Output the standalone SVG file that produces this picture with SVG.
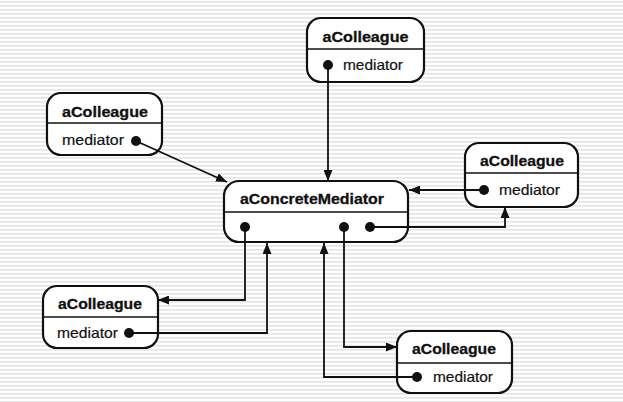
<svg xmlns="http://www.w3.org/2000/svg" width="623" height="402" viewBox="0 0 623 402">
<defs>
<pattern id="stripes" width="8" height="4" patternUnits="userSpaceOnUse">
<rect width="8" height="4" fill="#ffffff"/>
<rect y="1" width="8" height="1.6" fill="#e4e4e4"/>
</pattern>
<marker id="arr" viewBox="0 0 11 9" refX="11" refY="4.5" markerWidth="11" markerHeight="9" markerUnits="userSpaceOnUse" orient="auto">
<path d="M0,0 L11,4.5 L0,9 Z" fill="#111"/>
</marker>
<style>
.box{fill:#fff;stroke:#111;stroke-width:2.2}
.div{stroke:#111;stroke-width:1.6}
.title{font-family:"Liberation Sans",Arial,sans-serif;font-weight:bold;font-size:15px;fill:#111;stroke:#111;stroke-width:0.3}
.attr{font-family:"Liberation Sans",Arial,sans-serif;font-size:15px;fill:#111;stroke:#111;stroke-width:0.2}
.dot{fill:#111}
.conn{fill:none;stroke:#111;stroke-width:1.8;marker-end:url(#arr)}
</style>
</defs>
<rect width="623" height="402" fill="url(#stripes)"/>

<g id="mediator">
<rect class="box" x="224" y="181" width="184" height="61" rx="15"/>
<line class="div" x1="224" y1="212" x2="408" y2="212"/>
<text class="title" x="240" y="204" font-size="16" textLength="144" lengthAdjust="spacingAndGlyphs">aConcreteMediator</text>
<circle class="dot" cx="245" cy="227" r="5"/>
<circle class="dot" cx="344" cy="227" r="5"/>
<circle class="dot" cx="370" cy="227" r="5"/>
</g>

<g id="colleague-top">
<rect class="box" x="307" y="18" width="117" height="64" rx="14"/>
<line class="div" x1="307" y1="49" x2="424" y2="49"/>
<text class="title" x="365.5" y="42" text-anchor="middle" textLength="86" lengthAdjust="spacingAndGlyphs">aColleague</text>
<circle class="dot" cx="328" cy="65" r="5"/>
<text class="attr" x="343" y="70" textLength="60" lengthAdjust="spacingAndGlyphs">mediator</text>
</g>

<g id="colleague-left">
<rect class="box" x="47" y="93" width="115" height="62" rx="14"/>
<line class="div" x1="47" y1="123" x2="162" y2="123"/>
<text class="title" x="105" y="117" text-anchor="middle" textLength="86" lengthAdjust="spacingAndGlyphs">aColleague</text>
<text class="attr" x="62" y="145" textLength="62" lengthAdjust="spacingAndGlyphs">mediator</text>
<circle class="dot" cx="136" cy="141" r="5"/>
</g>

<g id="colleague-right">
<rect class="box" x="465" y="143" width="113" height="64" rx="14"/>
<line class="div" x1="465" y1="173" x2="578" y2="173"/>
<text class="title" x="522" y="166" text-anchor="middle" textLength="84" lengthAdjust="spacingAndGlyphs">aColleague</text>
<circle class="dot" cx="484" cy="190" r="5"/>
<text class="attr" x="499" y="195" textLength="61" lengthAdjust="spacingAndGlyphs">mediator</text>
</g>

<g id="colleague-bottom-left">
<rect class="box" x="43" y="286" width="115" height="62" rx="14"/>
<line class="div" x1="43" y1="317" x2="158" y2="317"/>
<text class="title" x="100" y="309" text-anchor="middle" textLength="84" lengthAdjust="spacingAndGlyphs">aColleague</text>
<text class="attr" x="57" y="338" textLength="61" lengthAdjust="spacingAndGlyphs">mediator</text>
<circle class="dot" cx="129" cy="333" r="5"/>
</g>

<g id="colleague-bottom-right">
<rect class="box" x="397" y="331" width="115" height="62" rx="14"/>
<line class="div" x1="397" y1="363" x2="512" y2="363"/>
<text class="title" x="454" y="354" text-anchor="middle" textLength="84" lengthAdjust="spacingAndGlyphs">aColleague</text>
<circle class="dot" cx="417" cy="377" r="5"/>
<text class="attr" x="433" y="382" textLength="60" lengthAdjust="spacingAndGlyphs">mediator</text>
</g>

<g id="connectors">
<path class="conn" d="M328,65 L328,181"/>
<path class="conn" d="M136,141 L227,182"/>
<path class="conn" d="M484,190 L409,190"/>
<path class="conn" d="M370,227 L505,227 L505,207"/>
<path class="conn" d="M245,227 L245,300 L158,300"/>
<path class="conn" d="M129,333 L267,333 L267,243"/>
<path class="conn" d="M344,227 L344,347 L397,347"/>
<path class="conn" d="M417,377 L324,377 L324,243"/>
</g>
</svg>
